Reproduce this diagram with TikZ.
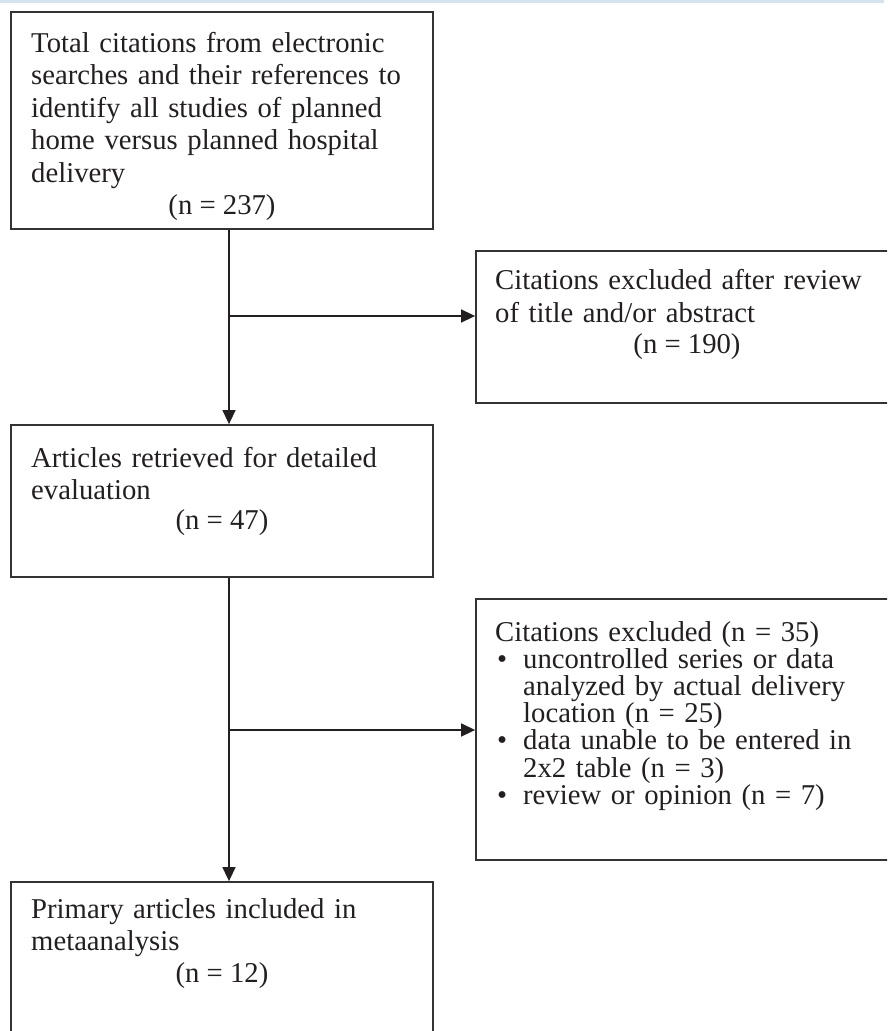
\documentclass[tikz,border=0pt]{standalone}
\usepackage{fontspec}
\setmainfont{Liberation Serif}
\usetikzlibrary{arrows.meta,positioning}

\definecolor{ink}{HTML}{231F20}
\definecolor{frame}{HTML}{333333}
\definecolor{topbar}{HTML}{D5E3F0}

\tikzset{
  stage/.style={draw=frame, line width=1.8pt, minimum width=422pt, inner sep=0pt},
  body/.style={anchor=base west, inner sep=0pt, text width=400pt, align=left,
    text=ink, font=\fontsize{28.7}{32.5}\selectfont},
  count/.style={anchor=base, inner sep=0pt, text=ink, font=\fontsize{28.7}{32.5}\selectfont},
  flow/.style={draw=ink, line width=1.5pt, -{Triangle[length=14pt,width=13pt]}},
}
\newcommand{\bul}{\makebox[28pt][l]{\hspace{2pt}\textbullet}}
\newcommand{\ind}{\hspace*{28pt}}

\begin{document}
\begin{tikzpicture}[x=1pt,y=-1pt]
  \useasboundingbox (0,0) rectangle (887,1031);
  \clip (0,0) rectangle (887,1031);
  \fill[topbar] (0,0) rectangle (884,2.5);

  % boxes
  \node[stage, minimum height=217pt] (total) at (222,120.5) {};
  \node[stage, minimum height=152pt] (excl1) at (687,327) {};
  \node[stage, minimum height=152pt] (retr) at (222,501) {};
  \node[stage, minimum height=261pt] (excl2) at (687,729.5) {};
  \node[stage, minimum height=163pt] (incl) at (222,963.5) {};

  % texts
  \node[body] (totaltxt) at (31,52) {Total citations from electronic\\
    searches and their references to\\ identify all studies of planned\\
    home versus planned hospital\\ delivery};
  \node[count] (totaln) at (222,214) {(n = 237)};

  \node[body, font=\fontsize{28.7}{33}\selectfont] (excl1txt) at (495,289)
    {Citations excluded after review\\ of title and/or abstract};
  \node[count] (excl1n) at (687,353) {(n = 190)};

  \node[body, font=\fontsize{28.7}{32}\selectfont] (retrtxt) at (31,467)
    {Articles retrieved for detailed\\ evaluation};
  \node[count] (retrn) at (222,529) {(n = 47)};

  \node[body, font=\fontsize{28.7}{27.2}\selectfont] (excl2txt) at (495,641)
    {Citations excluded (n = 35)\\
    \bul uncontrolled series or data\\
    \ind analyzed by actual delivery\\
    \ind location (n = 25)\\
    \bul data unable to be entered in\\
    \ind 2x2 table (n = 3)\\
    \bul review or opinion (n = 7)};

  \node[body, font=\fontsize{28.7}{32}\selectfont] (incltxt) at (31,918)
    {Primary articles included in\\ metaanalysis};
  \node[count] (incln) at (222,982) {(n = 12)};

  % connectors
  \coordinate (j1) at (229,316);
  \coordinate (j2) at (229,730);
  \draw[flow] (total.south -| j1) -- (retr.north -| j1);
  \draw[flow] (j1) -- (j1 -| excl1.west);
  \draw[flow] (retr.south -| j2) -- (incl.north -| j2);
  \draw[flow] (j2) -- (j2 -| excl2.west);
\end{tikzpicture}
\end{document}
